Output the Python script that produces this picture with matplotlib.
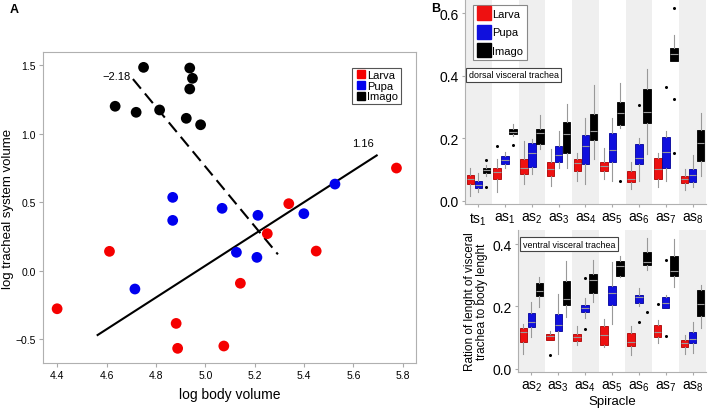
import matplotlib
matplotlib.use("Agg")
import matplotlib.pyplot as plt
from matplotlib.lines import Line2D

plt.rcParams['font.family'] = ['Liberation Sans', 'DejaVu Sans']
plt.rcParams['mathtext.fontset'] = 'custom'
plt.rcParams['mathtext.rm'] = 'Liberation Sans'
plt.rcParams['mathtext.it'] = 'Liberation Sans'

# ---- panel A data ----
larva_x = [4.40, 4.612, 4.882, 4.888, 5.075, 5.142, 5.251, 5.338, 5.449, 5.774]
larva_y = [-0.279, 0.140, -0.386, -0.568, -0.551, -0.093, 0.269, 0.488, 0.142, 0.748]
pupa_x = [4.868, 4.868, 5.068, 5.213, 5.126, 5.209, 4.715, 5.399, 5.525]
pupa_y = [0.534, 0.366, 0.454, 0.403, 0.133, 0.096, -0.135, 0.415, 0.631]
imago_x = [4.635, 4.720, 4.750, 4.815, 4.923, 4.937, 4.948, 4.937, 4.981]
imago_y = [1.199, 1.155, 1.483, 1.172, 1.111, 1.478, 1.403, 1.325, 1.064]

fit_solid_x = [4.564, 5.694]
fit_solid = (1.16, -5.765)      # slope, intercept
fit_dash_x = [4.707, 5.294]
fit_dash = (-2.18, 11.659)

# ---- panel B data: [whislo, q1, med, q3, whishi] ----
spiracles = ['ts_{1}', 'as_{1}', 'as_{2}', 'as_{3}', 'as_{4}', 'as_{5}', 'as_{6}', 'as_{7}', 'as_{8}']
groups = ['Larva', 'Pupa', 'Imago']

dorsal_larva = [[0.016, 0.053, 0.069, 0.082, 0.106], [0.027, 0.069, 0.093, 0.106, 0.133],
                [0.053, 0.085, 0.106, 0.133, 0.191], [0.048, 0.080, 0.103, 0.124, 0.165],
                [0.064, 0.096, 0.122, 0.133, 0.154], [0.069, 0.096, 0.112, 0.124, 0.170],
                [0.039, 0.059, 0.071, 0.094, 0.124], [0.043, 0.069, 0.101, 0.138, 0.154],
                [0.034, 0.056, 0.069, 0.080, 0.101]]
dorsal_larva_out = [[], [0.175], [], [], [], [], [], [], []]
dorsal_pupa = [[0.029, 0.040, 0.050, 0.064, 0.090], [0.106, 0.117, 0.131, 0.144, 0.156],
               [0.085, 0.109, 0.154, 0.184, 0.199], [0.106, 0.124, 0.146, 0.176, 0.223],
               [0.053, 0.119, 0.176, 0.210, 0.266], [0.064, 0.124, 0.163, 0.218, 0.266],
               [0.064, 0.117, 0.138, 0.183, 0.202], [0.064, 0.104, 0.156, 0.204, 0.223],
               [0.043, 0.061, 0.083, 0.101, 0.146]]
dorsal_pupa_out = [[], [], [], [], [], [], [0.306], [0.363], []]
dorsal_imago = [[0.080, 0.090, 0.099, 0.104, 0.115], [0.207, 0.213, 0.221, 0.229, 0.245],
                [0.165, 0.183, 0.216, 0.231, 0.273], [0.106, 0.154, 0.213, 0.253, 0.309],
                [0.133, 0.195, 0.223, 0.277, 0.369], [0.234, 0.241, 0.282, 0.317, 0.378],
                [0.149, 0.250, 0.285, 0.359, 0.422], [0.447, 0.447, 0.468, 0.487, 0.530],
                [0.080, 0.128, 0.186, 0.227, 0.282]]
dorsal_imago_out = [[0.132, 0.045], [0.179], [], [], [], [0.064], [], [0.615, 0.327, 0.152], []]

ventral_start = 2
ventral_larva = [[0.048, 0.087, 0.117, 0.130, 0.144], [0.091, 0.094, 0.105, 0.112, 0.121],
                 [0.077, 0.089, 0.101, 0.112, 0.137], [0.069, 0.075, 0.109, 0.139, 0.160],
                 [0.043, 0.073, 0.087, 0.115, 0.139], [0.082, 0.101, 0.119, 0.141, 0.157],
                 [0.048, 0.069, 0.082, 0.094, 0.107]]
ventral_larva_out = [[], [0.046], [], [], [], [0.208], []]
ventral_pupa = [[0.101, 0.135, 0.151, 0.178, 0.215], [0.048, 0.123, 0.141, 0.176, 0.240],
                [0.162, 0.183, 0.196, 0.206, 0.227], [0.144, 0.206, 0.243, 0.267, 0.341],
                [0.203, 0.210, 0.229, 0.237, 0.258], [0.195, 0.195, 0.210, 0.231, 0.237],
                [0.050, 0.082, 0.096, 0.117, 0.149]]
ventral_pupa_out = [[], [], [0.291, 0.128], [], [0.149], [0.350, 0.105], []]
ventral_imago = [[0.197, 0.233, 0.251, 0.274, 0.295], [0.165, 0.206, 0.224, 0.283, 0.345],
                 [0.213, 0.242, 0.285, 0.304, 0.350], [0.293, 0.299, 0.331, 0.347, 0.363],
                 [0.318, 0.333, 0.343, 0.375, 0.418], [0.261, 0.297, 0.313, 0.361, 0.416],
                 [0.131, 0.169, 0.208, 0.253, 0.269]]
ventral_imago_out = [[], [], [], [], [0.181], [], []]

RED, BLUE, BLACK = '#ee1111', '#1010dd', '#000000'
EDGE = {RED: '#aa0000', BLUE: '#000099', BLACK: '#000000'}
GRID = '#aaaaaa'

fig = plt.figure(figsize=(7.09, 4.10), dpi=100)

# ---------------- panel A ----------------
axA = fig.add_axes([0.0607, 0.1122, 0.526, 0.7585])
for xs, ys, c in [(larva_x, larva_y, '#f50000'), (pupa_x, pupa_y, '#0000ee'), (imago_x, imago_y, BLACK)]:
    axA.scatter(xs, ys, s=60, color=c, edgecolors='none', zorder=3)

m, b = fit_solid
axA.plot(fit_solid_x, [m * x + b for x in fit_solid_x], color='black', lw=1.5, zorder=2)
m2, b2 = fit_dash
axA.plot(fit_dash_x, [m2 * x + b2 for x in fit_dash_x], color='black', lw=1.5,
         dashes=(6, 3), zorder=2)
axA.text(5.64, 0.93, '1.16', fontsize=8, ha='center', va='center')
axA.text(4.64, 1.42, '\u22122.18', fontsize=8, ha='center', va='center')

axA.set_xlim(4.343, 5.853)
axA.set_ylim(-0.675, 1.595)
axA.set_xticks([4.4, 4.6, 4.8, 5.0, 5.2, 5.4, 5.6, 5.8])
axA.set_yticks([-0.5, 0.0, 0.5, 1.0, 1.5])
axA.set_xticklabels(['4.4', '4.6', '4.8', '5.0', '5.2', '5.4', '5.6', '5.8'])
axA.set_yticklabels(['\u22120.5', '0.0', '0.5', '1.0', '1.5'])
axA.tick_params(labelsize=7.5, color=GRID, length=3, pad=2)
for sp in axA.spines.values():
    sp.set_color('#b0b0b0')
axA.set_xlabel('log body volume', fontsize=10, labelpad=5)
axA.set_ylabel('log tracheal system volume', fontsize=9.5, labelpad=1)

hA = [Line2D([], [], marker='s', ls='none', color=c, markersize=6)
      for c in ['#f50000', '#0000ee', BLACK]]
legA = axA.legend(hA, groups, loc='upper right', bbox_to_anchor=(0.975, 0.968), fontsize=8,
                  handletextpad=0.1, labelspacing=0.05, borderpad=0.25, handlelength=1.0,
                  fancybox=False, edgecolor='#555555', framealpha=1)
legA.get_frame().set_linewidth(0.8)


# ---------------- panel B ----------------
def draw_boxes(ax, start, series):
    offsets = [-0.3, 0.0, 0.3]
    for (vals, outs, col), off in zip(series, offsets):
        stats = []
        for v, o in zip(vals, outs):
            stats.append(dict(whislo=v[0], q1=v[1], med=v[2], q3=v[3], whishi=v[4], fliers=o))
        pos = [start + i + off for i in range(len(vals))]
        ax.bxp(stats, positions=pos, widths=0.28, patch_artist=True, showcaps=False,
               boxprops=dict(facecolor=col, edgecolor=EDGE[col], linewidth=0.6),
               medianprops=dict(color='#9a9a9a', linewidth=0.8),
               whiskerprops=dict(color='#999999', linewidth=0.8),
               flierprops=dict(marker='o', markersize=1.2, markerfacecolor='black',
                               markeredgecolor='black'),
               manage_ticks=False)


def style_b(ax, first, ymax):
    for i in range(first, len(spiracles)):
        if i % 2 == 0:
            ax.axvspan(i - 0.5, i + 0.5, color='#efefef', zorder=0, lw=0)
    ax.set_xlim(first - 0.5, len(spiracles) - 0.5)
    ax.set_ylim(-0.01, ymax)
    ax.set_xticks(range(first, len(spiracles)))
    ax.set_xticklabels([r'$\mathregular{%s}$' % s for s in spiracles[first:]], fontsize=10)
    ax.tick_params(axis='both', color=GRID, length=2.5, labelsize=10, pad=2)
    for sp in ['top', 'right']:
        ax.spines[sp].set_visible(False)
    for sp in ['left', 'bottom']:
        ax.spines[sp].set_color('#b0b0b0')


axT = fig.add_axes([0.6558, 0.5, 0.34, 0.5])
style_b(axT, 0, 0.645)
axT.set_yticks([0.0, 0.2, 0.4, 0.6])
axT.set_yticklabels(['0.0', '0.2', '0.4', '0.6'])
draw_boxes(axT, 0, [(dorsal_larva, dorsal_larva_out, RED),
                    (dorsal_pupa, dorsal_pupa_out, BLUE),
                    (dorsal_imago, dorsal_imago_out, BLACK)])
hB = [Line2D([], [], marker='s', ls='none', color=c, markersize=10) for c in [RED, BLUE, BLACK]]
legB = axT.legend(hB, groups, loc='upper left', bbox_to_anchor=(0.012, 0.997), fontsize=8,
                  handletextpad=0.1, labelspacing=0.75, borderpad=0.35, handlelength=1.2,
                  fancybox=False, edgecolor='#888888', framealpha=1)
legB.get_frame().set_linewidth(0.8)
axT.text(0.015, 0.63, 'dorsal visceral trachea', transform=axT.transAxes, fontsize=6.4,
         ha='left', va='center',
         bbox=dict(boxstyle='square,pad=0.3', facecolor='white', edgecolor='#444444', lw=0.8))

axV = fig.add_axes([0.7306, 0.0902, 0.2652, 0.3464])
style_b(axV, ventral_start, 0.445)
axV.set_yticks([0.0, 0.2, 0.4])
axV.set_yticklabels(['0.0', '0.2', '0.4'])
draw_boxes(axV, ventral_start, [(ventral_larva, ventral_larva_out, RED),
                                (ventral_pupa, ventral_pupa_out, BLUE),
                                (ventral_imago, ventral_imago_out, BLACK)])
axV.text(0.025, 0.90, 'ventral visceral trachea', transform=axV.transAxes, fontsize=6.4,
         ha='left', va='center',
         bbox=dict(boxstyle='square,pad=0.3', facecolor='white', edgecolor='#444444', lw=0.8))
axV.set_xlabel('Spiracle', fontsize=9.5, labelpad=2)
axV.set_ylabel('Ration of lenght of visceral\ntrachea to body lenght', fontsize=8.5,
               linespacing=1.05, labelpad=3)

fig.text(0.02, 0.975, 'A', fontsize=9, fontweight='bold', ha='center', va='center')
fig.text(0.615, 0.978, 'B', fontsize=9, fontweight='bold', ha='center', va='center')

fig.savefig('out.png', dpi=100)
